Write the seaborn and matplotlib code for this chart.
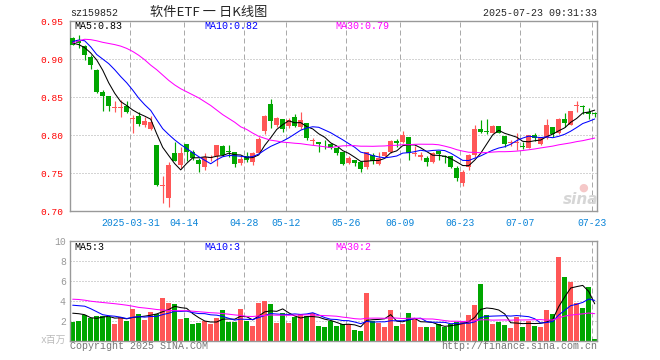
import numpy as np
import pandas as pd
import seaborn as sns
import matplotlib
matplotlib.use("Agg")
import matplotlib.pyplot as plt

# daily candles of sz159852, 2025-03-17 .. 2025-07-23 (88 sessions)
opens = [0.928, 0.925, 0.917, 0.903, 0.886, 0.857, 0.852, 0.8355, 0.836, 0.8385,
         0.822, 0.825, 0.814, 0.808, 0.787, 0.733, 0.718, 0.776, 0.761, 0.788,
         0.7776, 0.768, 0.7587, 0.770, 0.772, 0.786, 0.779, 0.778, 0.763, 0.772,
         0.765, 0.776, 0.805, 0.841, 0.8136, 0.821, 0.812, 0.8237, 0.8113, 0.816,
         0.7925, 0.7916, 0.790, 0.7886, 0.783, 0.778, 0.764, 0.768, 0.765, 0.758,
         0.7737, 0.762, 0.772, 0.778, 0.793, 0.791, 0.798, 0.776, 0.771, 0.7697,
         0.765, 0.779, 0.772, 0.7727, 0.7566, 0.7376, 0.758, 0.774, 0.808, 0.8045,
         0.8026, 0.8122, 0.7995, 0.7895, 0.790, 0.7855, 0.783, 0.800, 0.7886, 0.796,
         0.8113, 0.8026, 0.8214, 0.8136, 0.8385, 0.838, 0.831, 0.8285]
highs = [0.929, 0.932, 0.919, 0.905, 0.887, 0.860, 0.852, 0.8455, 0.846, 0.8455,
         0.827, 0.830, 0.8245, 0.825, 0.787, 0.7465, 0.765, 0.7915, 0.784, 0.788,
         0.780, 0.770, 0.7763, 0.774, 0.787, 0.787, 0.787, 0.778, 0.772, 0.778,
         0.778, 0.797, 0.827, 0.8474, 0.8245, 0.821, 0.822, 0.828, 0.831, 0.816,
         0.7968, 0.7916, 0.7938, 0.790, 0.783, 0.778, 0.772, 0.768, 0.765, 0.778,
         0.776, 0.778, 0.778, 0.794, 0.7945, 0.8057, 0.798, 0.786, 0.7776, 0.772,
         0.778, 0.779, 0.774, 0.7727, 0.7596, 0.754, 0.7755, 0.8136, 0.820, 0.821,
         0.8136, 0.8122, 0.7995, 0.7938, 0.8026, 0.7916, 0.8004, 0.8034, 0.7975, 0.821,
         0.8113, 0.8222, 0.829, 0.832, 0.8451, 0.839, 0.8355, 0.831]
lows = [0.918, 0.9145, 0.899, 0.887, 0.855, 0.832, 0.832, 0.831, 0.8245, 0.8296,
        0.803, 0.812, 0.8113, 0.807, 0.733, 0.711, 0.705, 0.766, 0.7566, 0.766,
        0.768, 0.751, 0.7543, 0.766, 0.760, 0.772, 0.7718, 0.758, 0.761, 0.7653,
        0.761, 0.776, 0.8015, 0.8092, 0.8105, 0.8047, 0.810, 0.8105, 0.808, 0.7938,
        0.7872, 0.7777, 0.7816, 0.7816, 0.774, 0.761, 0.762, 0.7596, 0.752, 0.756,
        0.762, 0.761, 0.771, 0.777, 0.7845, 0.7895, 0.7675, 0.7727, 0.7675, 0.7596,
        0.7635, 0.7675, 0.764, 0.7566, 0.7403, 0.7337, 0.7537, 0.7718, 0.8026, 0.8013,
        0.8026, 0.8026, 0.785, 0.786, 0.7807, 0.7816, 0.7829, 0.7925, 0.7875, 0.795,
        0.7982, 0.8017, 0.8105, 0.8130, 0.831, 0.8276, 0.821, 0.8237]
closes = [0.919, 0.921, 0.905, 0.892, 0.857, 0.852, 0.838, 0.8365, 0.837, 0.831,
          0.823, 0.815, 0.819, 0.817, 0.735, 0.734, 0.761, 0.766, 0.776, 0.778,
          0.770, 0.762, 0.7718, 0.771, 0.787, 0.774, 0.778, 0.762, 0.769, 0.768,
          0.776, 0.795, 0.825, 0.819, 0.8224, 0.808, 0.820, 0.8122, 0.820, 0.796,
          0.793, 0.788, 0.7895, 0.783, 0.776, 0.762, 0.770, 0.764, 0.7557, 0.7776,
          0.766, 0.7705, 0.7776, 0.793, 0.790, 0.800, 0.776, 0.777, 0.774, 0.7653,
          0.776, 0.775, 0.7715, 0.7587, 0.7434, 0.752, 0.774, 0.808, 0.804, 0.804,
          0.8122, 0.8034, 0.7886, 0.7916, 0.791, 0.785, 0.800, 0.796, 0.796, 0.8136,
          0.8017, 0.8214, 0.8158, 0.832, 0.8395, 0.837, 0.828, 0.828]
# volume, millions
volumes = [1.9, 2.0, 2.57, 2.23, 2.5, 2.5, 2.4, 1.67, 2.37, 2.0,
           3.17, 2.67, 2.07, 2.83, 2.63, 4.3, 3.77, 3.67, 2.17, 2.27,
           1.67, 1.77, 1.97, 1.67, 2.27, 3.07, 1.87, 1.87, 3.17, 2.0,
           1.5, 3.77, 3.97, 3.67, 1.77, 2.73, 1.8, 2.4, 2.63, 2.5,
           2.73, 1.5, 1.4, 2.0, 1.5, 1.67, 1.67, 1.07, 1.0, 4.77,
           2.0, 1.8, 1.4, 3.07, 1.5, 1.67, 2.77, 2.17, 1.37, 1.4,
           1.37, 1.67, 1.37, 1.67, 1.87, 1.97, 2.57, 3.57, 5.67, 2.57,
           1.67, 1.87, 1.6, 1.27, 2.4, 1.4, 2.0, 1.5, 1.4, 3.07,
           2.67, 8.37, 6.37, 5.87, 3.77, 3.27, 5.37, 0.15]

# moving-average values before a full window exists (they use older sessions not shown)
ma5_head = [0.921, 0.919, 0.915, 0.908]
ma10_head = [0.923, 0.925, 0.924, 0.916, 0.906, 0.900, 0.894, 0.886, 0.877]
ma30_head = [0.921, 0.924, 0.926, 0.9255, 0.924, 0.922, 0.9205, 0.919, 0.917, 0.914,
             0.910, 0.905, 0.899, 0.892, 0.886, 0.879, 0.872, 0.866, 0.861, 0.857,
             0.853, 0.849, 0.844, 0.839, 0.833, 0.827, 0.822, 0.817, 0.811]
vma5_head = [2.75, 2.7, 2.6, 2.3]
vma10_head = [3.55, 3.5, 3.45, 3.2, 2.9, 2.6, 2.5, 2.45, 2.35]
vma30_head = [4.15, 4.12, 4.05, 3.95, 3.88, 3.82, 3.76, 3.7, 3.63, 3.55,
              3.45, 3.33, 3.27, 3.2, 3.12, 3.07, 3.03, 3.0, 3.0, 3.0,
              2.95, 2.9, 2.85, 2.8, 2.77, 2.72, 2.65, 2.58, 2.52]

tick_idx = [10, 19, 29, 36, 46, 55, 65, 75, 87]
tick_labels = ["2025-03-31", "04-14", "04-28", "05-12", "05-26", "06-09", "06-23", "07-07", "07-23"]
price_ticks = [0.70, 0.75, 0.80, 0.85, 0.90, 0.95]
vol_ticks = [2, 4, 6, 8, 10]

df = pd.DataFrame({"open": opens, "high": highs, "low": lows, "close": closes, "vol": volumes})
df["i"] = np.arange(len(df))


def ma(s, n, head):
    m = s.rolling(n).mean()
    m.iloc[:n - 1] = head
    return m


df["ma5"] = ma(df["close"], 5, ma5_head)
df["ma10"] = ma(df["close"], 10, ma10_head)
df["ma30"] = ma(df["close"], 30, ma30_head)
df["vma5"] = ma(df["vol"], 5, vma5_head)
df["vma10"] = ma(df["vol"], 10, vma10_head)
df["vma30"] = ma(df["vol"], 30, vma30_head)

RED = "#ff5757"
GREEN = "#00a600"
cols = np.where(df["close"] >= df["open"], RED, GREEN)

sns.set_style("white")
plt.rcParams["font.family"] = ["Liberation Mono", "Noto Sans CJK SC", "DejaVu Sans"]

W, H = 660, 360
fig = plt.figure(figsize=(6.6, 3.6), dpi=100)
ax = fig.add_axes([70 / W, 1 - 211.3 / H, 527 / W, 190.3 / H])
axv = fig.add_axes([70 / W, 1 - 340.7 / H, 527 / W, 100 / H])

px = 0.72  # one pixel in points
grid_c = "#aaaaaa"
xt = np.array(tick_idx) - 0.4

for a in (ax, axv):
    for x in xt:
        a.axvline(x, color=grid_c, lw=px, ls=(0, (5, 3)), zorder=0)
    for s in a.spines.values():
        s.set_color("#999999")
        s.set_linewidth(1.0)
    a.set_xlim(-0.45, 87.38)

for p in price_ticks[1:-1]:
    ax.axhline(p, color=grid_c, lw=px, ls=(0, (1, 2)), zorder=0)
for v in vol_ticks[:-1]:
    axv.axhline(v, color=grid_c, lw=px, ls=(0, (1, 2)), zorder=0)

# candles
lo = np.minimum(df["open"], df["close"])
hgt = (df["close"] - df["open"]).abs()
tiny = hgt < 0.0012
lo = np.where(tiny, lo - (0.0012 - hgt) / 2, lo)
hgt = np.maximum(hgt, 0.0012)
ax.vlines(df["i"], df["low"], df["high"], colors=cols, lw=0.85, zorder=2)
ax.bar(df["i"], hgt, bottom=lo, width=0.76, color=cols, lw=0, zorder=3)

sns.lineplot(x=df["i"], y=df["ma5"], color="black", lw=0.75, ax=ax, zorder=4)
sns.lineplot(x=df["i"], y=df["ma10"], color="#0000ff", lw=0.75, ax=ax, zorder=4)
sns.lineplot(x=df["i"], y=df["ma30"], color="#ff00ff", lw=0.75, ax=ax, zorder=4)

ax.set_ylim(0.70, 0.95)
ax.set_yticks(price_ticks)
ax.set_yticklabels([f"{p:.2f}" for p in price_ticks], color="red", fontsize=6.8)
ax.set_xticks(xt)
ax.set_xticklabels(tick_labels, color="#0a84d8", fontsize=7)
ax.tick_params(length=0, pad=4.5)
ax.set_xlabel("")
ax.set_ylabel("")

# volume
axv.bar(df["i"], df["vol"], width=0.86, color=cols, lw=0, zorder=2)
sns.lineplot(x=df["i"], y=df["vma5"], color="black", lw=0.75, ax=axv, zorder=4)
sns.lineplot(x=df["i"], y=df["vma10"], color="#0000ff", lw=0.75, ax=axv, zorder=4)
sns.lineplot(x=df["i"], y=df["vma30"], color="#ff00ff", lw=0.75, ax=axv, zorder=4)
axv.set_ylim(0, 10)
axv.set_yticks(vol_ticks)
axv.set_yticklabels([str(v) for v in vol_ticks], color="#999999", fontsize=7)
axv.set_xticks([])
axv.tick_params(length=0, pad=3)
axv.set_xlabel("")
axv.set_ylabel("")


def txt(x, y, s, **kw):
    kw.setdefault("fontsize", 7.2)
    kw.setdefault("va", "center")
    fig.text(x / W, 1 - y / H, s, **kw)


txt(70, 13, "sz159852")
txt(209, 12, "软件ETF 一 日K线图", ha="center", fontsize=9.5,
    family=["Noto Sans CJK SC", "DejaVu Sans"])
txt(597, 13, "2025-07-23 09:31:33", ha="right")

txt(74, 26, "MA5:0.83", color="black")
txt(204, 26, "MA10:0.82", color="#0000ff")
txt(335, 26, "MA30:0.79", color="#ff00ff")

txt(74, 247, "MA5:3", color="black")
txt(204, 247, "MA10:3", color="#0000ff")
txt(335, 247, "MA30:2", color="#ff00ff")

txt(66, 340, "x百万", ha="right", color="#bbbbbb", fontsize=7)
txt(70, 346, "Copyright 2025 SINA.COM", color="#777777")
txt(597, 346, "http://finance.sina.com.cn", ha="right", color="#777777")

txt(581, 200, "sina", ha="center", fontsize=11, fontweight="bold", style="italic",
    color="#d6d6d6", family=["DejaVu Sans"])
txt(583, 188, "●", ha="center", fontsize=8, color="#f5c8c8", family=["DejaVu Sans"])

fig.savefig("out.png", dpi=100)
